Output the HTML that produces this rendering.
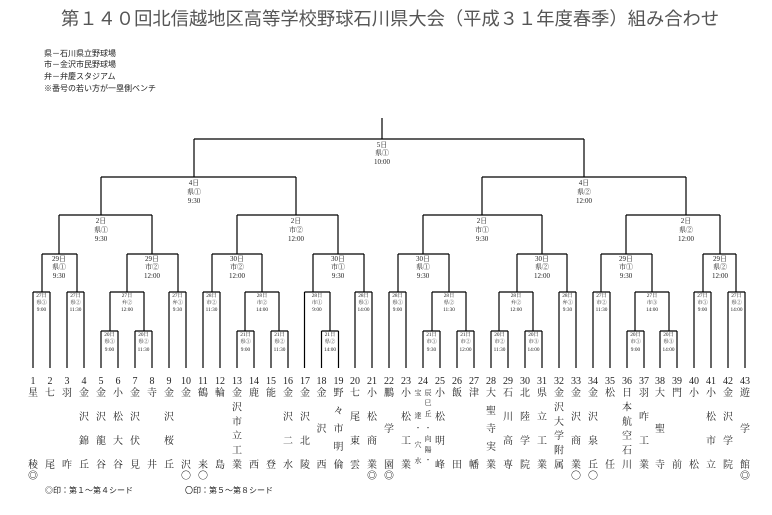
<!DOCTYPE html>
<html><head><meta charset="utf-8"><style>
html,body{margin:0;padding:0;background:#fff;}
svg{display:block;font-family:"Liberation Serif","Noto Serif CJK SC","Noto Sans CJK JP",serif;}
.t{font-family:"Liberation Sans","Noto Sans CJK JP",sans-serif;font-size:18.3px;fill:#555;}
.lg{font-family:"Liberation Sans","Noto Sans CJK JP",sans-serif;font-size:8px;fill:#222;}
.m{font-size:7px;fill:#222;text-anchor:middle;}
.s{font-size:5.3px;fill:#222;text-anchor:middle;}
.n{font-size:10px;fill:#222;text-anchor:middle;}
.c{font-size:10px;fill:#222;text-anchor:middle;font-family:"Noto Serif CJK SC","Noto Sans CJK JP",serif;}
.cs{font-size:7px;fill:#222;text-anchor:middle;font-family:"Noto Serif CJK SC","Noto Sans CJK JP",serif;}
</style></head><body>
<svg width="772" height="515" viewBox="0 0 772 515" xmlns="http://www.w3.org/2000/svg">
<text class="t" x="61" y="25">第１４０回北信越地区高等学校野球石川県大会（平成３１年度春季）組み合わせ</text>
<text class="lg" x="44" y="56">県－石川県立野球場</text>
<text class="lg" x="44" y="67">市－金沢市民野球場</text>
<text class="lg" x="44" y="79">弁－弁慶スタジアム</text>
<text class="lg" x="44" y="91">※番号の若い方が一塁側ベンチ</text>
<text class="lg" x="45" y="493">◎印：第１～第４シード</text>
<text class="lg" x="185" y="493">〇印：第５～第８シード</text>

<path fill="none" stroke="#000" stroke-width="1.2" d="
M382 118V139 M194 139H584 M194 139V177 M584 139V177
M101 177H296 M101 177V215 M296 177V215 M482 177H686 M482 177V215 M686 177V215
M59 215H152 M59 215V254 M152 215V254 M237 215H338 M237 215V254 M338 215V254
M423 215H542 M423 215V254 M542 215V254 M626 215H720 M626 215V254 M720 215V254
M42 254H77 M127 254H178 M212 254H262 M313 254H364 M398 254H449 M517 254H567 M601 254H652 M703 254H736
M42 254V292 M77 254V292 M127 254V292 M178 254V292 M212 254V292 M262 254V292 M313 254V292 M364 254V292
M398 254V292 M449 254V292 M517 254V292 M567 254V292 M601 254V292 M652 254V292 M703 254V292 M736 254V292
M33 292H50 M67 292H84 M110 292H144 M169 292H186 M203 292H220 M245 292H279 M304.5 292H330 M355 292H372
M389 292H406 M432 292H466 M499 292H533 M559 292H576 M593 292H610 M635 292H669 M694 292H711 M728 292H745
M110 292V331 M144 292V331 M245 292V331 M279 292V331 M330 292V331 M432 292V331 M466 292V331 M499 292V331 M533 292V331 M635 292V331 M669 292V331
M101 331H118 M135 331H152 M237 331H254 M271 331H288 M321.5 331H338.5 M423 331H440 M457 331H474 M491 331H508 M525 331H542 M627 331H644 M660 331H677
M33 292V368 M50 292V368 M67 292V368 M84 292V368 M169 292V368 M186 292V368 M203 292V368 M220 292V368 M304.5 292V368 M355 292V368 M372 292V368
M389 292V368 M406 292V368 M559 292V368 M576 292V368 M593 292V368 M610 292V368 M694 292V368 M711 292V368 M728 292V368 M745 292V368
M101 331V368 M118 331V368 M135 331V368 M152 331V368 M237 331V368 M254 331V368 M271 331V368 M288 331V368 M321.5 331V368 M338.5 331V368
M423 331V368 M440 331V368 M457 331V368 M474 331V368 M491 331V368 M508 331V368 M525 331V368 M542 331V368 M627 331V368 M644 331V368 M660 331V368 M677 331V368
"/>

<g class="m">
<text x="382" y="147">5日</text><text x="382" y="155">県①</text><text x="382" y="164">10:00</text>
<text x="194" y="185">4日</text><text x="194" y="194">県①</text><text x="194" y="203">9:30</text>
<text x="584" y="185">4日</text><text x="584" y="194">県②</text><text x="584" y="203">12:00</text>
<text x="101" y="223">2日</text><text x="101" y="232">県①</text><text x="101" y="241">9:30</text>
<text x="296" y="223">2日</text><text x="296" y="232">市②</text><text x="296" y="241">12:00</text>
<text x="482" y="223">2日</text><text x="482" y="232">市①</text><text x="482" y="241">9:30</text>
<text x="686" y="223">2日</text><text x="686" y="232">県②</text><text x="686" y="241">12:00</text>
<text x="59" y="261">29日</text><text x="59" y="269">県①</text><text x="59" y="278">9:30</text>
<text x="152" y="261">29日</text><text x="152" y="269">市②</text><text x="152" y="278">12:00</text>
<text x="237" y="261">30日</text><text x="237" y="269">市②</text><text x="237" y="278">12:00</text>
<text x="338" y="261">30日</text><text x="338" y="269">市①</text><text x="338" y="278">9:30</text>
<text x="423" y="261">30日</text><text x="423" y="269">県①</text><text x="423" y="278">9:30</text>
<text x="542" y="261">30日</text><text x="542" y="269">県②</text><text x="542" y="278">12:00</text>
<text x="626" y="261">29日</text><text x="626" y="269">市①</text><text x="626" y="278">9:30</text>
<text x="720" y="261">29日</text><text x="720" y="269">県②</text><text x="720" y="278">12:00</text>
</g>

<g class="s">
<text x="41.5" y="297">27日</text><text x="41.5" y="304">県①</text><text x="41.5" y="311">9:00</text>
<text x="75.5" y="297">27日</text><text x="75.5" y="304">県②</text><text x="75.5" y="311">11:30</text>
<text x="127" y="297">27日</text><text x="127" y="304">弁②</text><text x="127" y="311">12:00</text>
<text x="177.5" y="297">27日</text><text x="177.5" y="304">弁①</text><text x="177.5" y="311">9:30</text>
<text x="211.5" y="297">28日</text><text x="211.5" y="304">市②</text><text x="211.5" y="311">11:30</text>
<text x="262" y="297">28日</text><text x="262" y="304">市②</text><text x="262" y="311">14:00</text>
<text x="317" y="297">28日</text><text x="317" y="304">市①</text><text x="317" y="311">9:00</text>
<text x="363.5" y="297">28日</text><text x="363.5" y="304">県①</text><text x="363.5" y="311">14:00</text>
<text x="397.5" y="297">28日</text><text x="397.5" y="304">県①</text><text x="397.5" y="311">9:00</text>
<text x="449" y="297">28日</text><text x="449" y="304">県②</text><text x="449" y="311">11:30</text>
<text x="516" y="297">28日</text><text x="516" y="304">弁②</text><text x="516" y="311">12:00</text>
<text x="567.5" y="297">28日</text><text x="567.5" y="304">弁①</text><text x="567.5" y="311">9:30</text>
<text x="601.5" y="297">27日</text><text x="601.5" y="304">市②</text><text x="601.5" y="311">11:30</text>
<text x="652" y="297">27日</text><text x="652" y="304">市③</text><text x="652" y="311">14:00</text>
<text x="702.5" y="297">27日</text><text x="702.5" y="304">市①</text><text x="702.5" y="311">9:00</text>
<text x="736.5" y="297">27日</text><text x="736.5" y="304">県②</text><text x="736.5" y="311">14:00</text>
<text x="109.5" y="336">20日</text><text x="109.5" y="343">県①</text><text x="109.5" y="351">9:00</text>
<text x="143.5" y="336">20日</text><text x="143.5" y="343">県②</text><text x="143.5" y="351">11:30</text>
<text x="245.5" y="336">21日</text><text x="245.5" y="343">県①</text><text x="245.5" y="351">9:00</text>
<text x="279.5" y="336">21日</text><text x="279.5" y="343">県②</text><text x="279.5" y="351">11:30</text>
<text x="330" y="336">21日</text><text x="330" y="343">県②</text><text x="330" y="351">14:00</text>
<text x="431.5" y="336">21日</text><text x="431.5" y="343">市①</text><text x="431.5" y="351">9:30</text>
<text x="465.5" y="336">21日</text><text x="465.5" y="343">市②</text><text x="465.5" y="351">12:00</text>
<text x="499.5" y="336">20日</text><text x="499.5" y="343">市②</text><text x="499.5" y="351">11:30</text>
<text x="533.5" y="336">20日</text><text x="533.5" y="343">市③</text><text x="533.5" y="351">14:00</text>
<text x="635.5" y="336">20日</text><text x="635.5" y="343">市①</text><text x="635.5" y="351">9:00</text>
<text x="668.5" y="336">20日</text><text x="668.5" y="343">県③</text><text x="668.5" y="351">14:00</text>
</g>

<g class="n">
<text x="33" y="384">1</text><text x="50" y="384">2</text><text x="67" y="384">3</text><text x="84" y="384">4</text><text x="101" y="384">5</text><text x="118" y="384">6</text><text x="135" y="384">7</text><text x="152" y="384">8</text><text x="169" y="384">9</text><text x="186" y="384">10</text>
<text x="203" y="384">11</text><text x="220" y="384">12</text><text x="237" y="384">13</text><text x="254" y="384">14</text><text x="271" y="384">15</text><text x="288" y="384">16</text><text x="305" y="384">17</text><text x="321.5" y="384">18</text><text x="338.5" y="384">19</text><text x="355" y="384">20</text>
<text x="372" y="384">21</text><text x="389" y="384">22</text><text x="406" y="384">23</text><text x="423" y="384">24</text><text x="440" y="384">25</text><text x="457" y="384">26</text><text x="474" y="384">27</text><text x="491" y="384">28</text><text x="508" y="384">29</text><text x="525" y="384">30</text>
<text x="542" y="384">31</text><text x="559" y="384">32</text><text x="576" y="384">33</text><text x="593" y="384">34</text><text x="610" y="384">35</text><text x="627" y="384">36</text><text x="644" y="384">37</text><text x="660" y="384">38</text><text x="677" y="384">39</text><text x="694" y="384">40</text>
<text x="711" y="384">41</text><text x="728" y="384">42</text><text x="745" y="384">43</text>
</g>

<g class="c">
<text x="33" y="396">星</text><text x="33" y="468">稜</text>
<text x="50" y="396">七</text><text x="50" y="468">尾</text>
<text x="67" y="396">羽</text><text x="67" y="468">咋</text>
<text x="152" y="396">寺</text><text x="152" y="468">井</text>
<text x="186" y="396">金</text><text x="186" y="468">沢</text>
<text x="203" y="396">鶴</text><text x="203" y="468">来</text>
<text x="220" y="396">輪</text><text x="220" y="468">島</text>
<text x="254" y="396">鹿</text><text x="254" y="468">西</text>
<text x="271" y="396">能</text><text x="271" y="468">登</text>
<text x="457" y="396">飯</text><text x="457" y="468">田</text>
<text x="474" y="396">津</text><text x="474" y="468">幡</text>
<text x="610" y="396">松</text><text x="610" y="468">任</text>
<text x="677" y="396">門</text><text x="677" y="468">前</text>
<text x="694" y="396">小</text><text x="694" y="468">松</text>
<text x="321.5" y="396">金</text><text x="321.5" y="432">沢</text><text x="321.5" y="468">西</text>
<text x="389" y="396">鵬</text><text x="389" y="432">学</text><text x="389" y="468">園</text>
<text x="660" y="396">大</text><text x="660" y="432">聖</text><text x="660" y="468">寺</text>
<text x="745" y="396">遊</text><text x="745" y="432">学</text><text x="745" y="468">館</text>
<text x="84" y="396">金</text><text x="84" y="420">沢</text><text x="84" y="444">錦</text><text x="84" y="468">丘</text>
<text x="101" y="396">金</text><text x="101" y="420">沢</text><text x="101" y="444">龍</text><text x="101" y="468">谷</text>
<text x="118" y="396">小</text><text x="118" y="420">松</text><text x="118" y="444">大</text><text x="118" y="468">谷</text>
<text x="135" y="396">金</text><text x="135" y="420">沢</text><text x="135" y="444">伏</text><text x="135" y="468">見</text>
<text x="169" y="396">金</text><text x="169" y="420">沢</text><text x="169" y="444">桜</text><text x="169" y="468">丘</text>
<text x="288" y="396">金</text><text x="288" y="420">沢</text><text x="288" y="444">二</text><text x="288" y="468">水</text>
<text x="305" y="396">金</text><text x="305" y="420">沢</text><text x="305" y="444">北</text><text x="305" y="468">陵</text>
<text x="355" y="396">七</text><text x="355" y="420">尾</text><text x="355" y="444">東</text><text x="355" y="468">雲</text>
<text x="372" y="396">小</text><text x="372" y="420">松</text><text x="372" y="444">商</text><text x="372" y="468">業</text>
<text x="406" y="396">小</text><text x="406" y="420">松</text><text x="406" y="444">工</text><text x="406" y="468">業</text>
<text x="440" y="396">小</text><text x="440" y="420">松</text><text x="440" y="444">明</text><text x="440" y="468">峰</text>
<text x="508" y="396">石</text><text x="508" y="420">川</text><text x="508" y="444">高</text><text x="508" y="468">専</text>
<text x="525" y="396">北</text><text x="525" y="420">陸</text><text x="525" y="444">学</text><text x="525" y="468">院</text>
<text x="542" y="396">県</text><text x="542" y="420">立</text><text x="542" y="444">工</text><text x="542" y="468">業</text>
<text x="576" y="396">金</text><text x="576" y="420">沢</text><text x="576" y="444">商</text><text x="576" y="468">業</text>
<text x="593" y="396">金</text><text x="593" y="420">沢</text><text x="593" y="444">泉</text><text x="593" y="468">丘</text>
<text x="644" y="396">羽</text><text x="644" y="420">咋</text><text x="644" y="444">工</text><text x="644" y="468">業</text>
<text x="711" y="396">小</text><text x="711" y="420">松</text><text x="711" y="444">市</text><text x="711" y="468">立</text>
<text x="728" y="396">金</text><text x="728" y="420">沢</text><text x="728" y="444">学</text><text x="728" y="468">院</text>
<text x="338.5" y="396">野</text><text x="338.5" y="414">々</text><text x="338.5" y="432">市</text><text x="338.5" y="450">明</text><text x="338.5" y="468">倫</text>
<text x="491" y="396">大</text><text x="491" y="414">聖</text><text x="491" y="432">寺</text><text x="491" y="450">実</text><text x="491" y="468">業</text>
<text x="237" y="396">金</text><text x="237" y="410.4">沢</text><text x="237" y="424.8">市</text><text x="237" y="439.2">立</text><text x="237" y="453.6">工</text><text x="237" y="468">業</text>
<text x="559" y="396">金</text><text x="559" y="410.4">沢</text><text x="559" y="424.8">大</text><text x="559" y="439.2">学</text><text x="559" y="453.6">附</text><text x="559" y="468">属</text>
<text x="627" y="396">日</text><text x="627" y="410.4">本</text><text x="627" y="424.8">航</text><text x="627" y="439.2">空</text><text x="627" y="453.6">石</text><text x="627" y="468">川</text>
<text x="33" y="479">◎</text><text x="186" y="479">〇</text><text x="203" y="479">〇</text>
<text x="372" y="479">◎</text><text x="389" y="479">◎</text>
<text x="576" y="479">〇</text><text x="593" y="479">〇</text><text x="745" y="479">◎</text>
</g>
<g class="cs">
<text x="418" y="395">宝</text><text x="418" y="418">達</text><text x="418" y="430">・</text><text x="418" y="447">穴</text><text x="418" y="463">水</text>
<text x="428" y="395">辰</text><text x="428" y="405">巳</text><text x="428" y="416">丘</text><text x="428" y="430">・</text><text x="428" y="441">向</text><text x="428" y="452">陽</text><text x="428" y="462">・</text>
</g>
</svg>
</body></html>
